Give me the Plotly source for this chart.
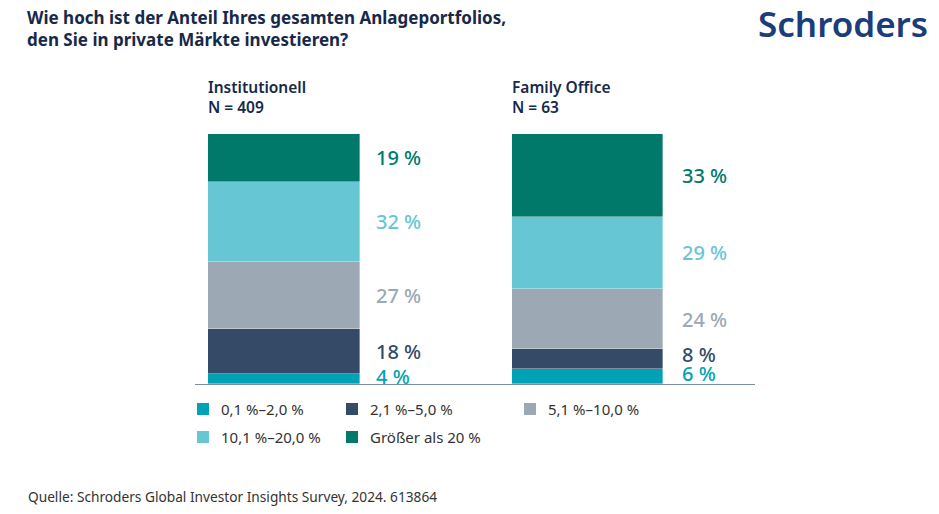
import plotly.graph_objects as go

W, H = 939, 514

groups = ["Institutionell", "Family Office"]
group_n = ["N = 409", "N = 63"]
series_names = ["0,1 %–2,0 %", "2,1 %–5,0 %", "5,1 %–10,0 %", "10,1 %–20,0 %", "Größer als 20 %"]
institutionell = [4, 18, 27, 32, 19]
family_office = [6, 8, 24, 29, 33]
colors = ["#00A3B6", "#344A66", "#9CA8B3", "#66C6D4", "#00796B"]

title_lines = ["Wie hoch ist der Anteil Ihres gesamten Anlageportfolios,",
               "den Sie in private Märkte investieren?"]
source_text = "Quelle: Schroders Global Investor Insights Survey, 2024. 613864"
logo_text = "Schroders"

FONT = "Noto Sans"
NAVY = "#16294A"

# plot-area placement in pixels
X0_PIX, X1_PIX = 195, 755
Y_BOTTOM_PIX, Y_TOP_PIX = 384, 134
C0, C1 = 284, 587.5


def px(x):
    return x / W


def py(y):
    return 1 - y / H


values_by_group = [institutionell, family_office]

fig = go.Figure()
for s, name in enumerate(series_names):
    fig.add_trace(go.Bar(
        x=list(range(len(groups))),
        y=[vals[s] for vals in values_by_group],
        name=name,
        width=0.5,
        marker=dict(color=colors[s], line=dict(color="rgba(255,255,255,0.6)", width=0.6)),
        showlegend=False,
        hoverinfo="skip",
    ))

pix_per_unit = (Y_BOTTOM_PIX - Y_TOP_PIX) / 100.0
annotations = []
# value labels (pushed apart so they do not collide)
for g, vals in enumerate(values_by_group):
    cum = 0
    prev_pos = None
    for s, v in enumerate(vals):
        center = cum + v / 2
        cum += v
        pos = center * pix_per_unit  # pixels above axis
        if s == 0:
            pos += 3
        elif prev_pos is not None and pos < prev_pos + 19:
            pos = prev_pos + 19
        prev_pos = pos
        annotations.append(dict(
            x=g + 0.25, y=center, xref="x", yref="y",
            text=f"{v} %", showarrow=False, xanchor="left", yanchor="middle",
            xshift=15 + 3 * g, yshift=pos - center * pix_per_unit, borderpad=0,
            font=dict(family=FONT, size=20, color=colors[s], weight=500),
        ))
    # group header
    annotations.append(dict(
        x=g - 0.25, y=py(97), xref="x", yref="paper",
        text=f"{groups[g]}<br>{group_n[g]}", showarrow=False, xanchor="left", yanchor="middle",
        align="left", xshift=-1, borderpad=0,
        font=dict(family=FONT, size=15.5, color=NAVY, weight=600),
    ))

# title
annotations.append(dict(
    x=px(26), y=py(28.5), xref="paper", yref="paper", text="<br>".join(title_lines),
    showarrow=False, xanchor="left", yanchor="middle", align="left", borderpad=0,
    font=dict(family=FONT, size=17, color=NAVY, weight=700),
))
# logo
annotations.append(dict(
    x=px(929), y=py(23.5), xref="paper", yref="paper", text=logo_text, showarrow=False,
    xanchor="right", yanchor="middle", borderpad=0,
    font=dict(family=FONT, size=35, color="#1B3D7A", weight=600),
))
# source
annotations.append(dict(
    x=px(26), y=py(496), xref="paper", yref="paper", text=source_text, showarrow=False,
    xanchor="left", yanchor="middle",
    font=dict(family=FONT, size=13.7, color="#333333"),
))

# manual legend
legend_pos = [(197, 409), (346, 409), (524, 409), (197, 437), (346, 437)]
shapes = []
for s, name in enumerate(series_names):
    lx, ly = legend_pos[s]
    shapes.append(dict(
        type="rect", xref="paper", yref="paper",
        x0=px(lx), x1=px(lx + 12), y0=py(ly + 6), y1=py(ly - 6),
        fillcolor=colors[s], line=dict(width=0),
    ))
    annotations.append(dict(
        x=px(lx + 22), y=py(ly), xref="paper", yref="paper", text=name, showarrow=False,
        xanchor="left", yanchor="middle",
        font=dict(family=FONT, size=15, color="#333333"),
    ))

unit = C1 - C0
xr = [-(C0 - X0_PIX) / unit, 1 + (X1_PIX - C1) / unit]

fig.update_layout(
    width=W, height=H,
    margin=dict(l=0, r=0, t=0, b=0),
    paper_bgcolor="white", plot_bgcolor="white",
    barmode="stack", bargap=0,
    xaxis=dict(domain=[px(X0_PIX), px(X1_PIX)], range=xr, showticklabels=False, showgrid=False,
               zeroline=False, showline=True, linecolor="#7B8CA6", linewidth=1.2, ticks="",
               fixedrange=True),
    yaxis=dict(domain=[py(Y_BOTTOM_PIX), py(Y_TOP_PIX)], range=[0, 100], showticklabels=False,
               showgrid=False, zeroline=False, showline=False, fixedrange=True),
    annotations=annotations,
    shapes=shapes,
    font=dict(family=FONT),
)

fig.write_html(
    "out.html",
    config={"displayModeBar": False},
    post_script="document.body.style.margin='0';document.body.style.overflow='hidden';",
)
